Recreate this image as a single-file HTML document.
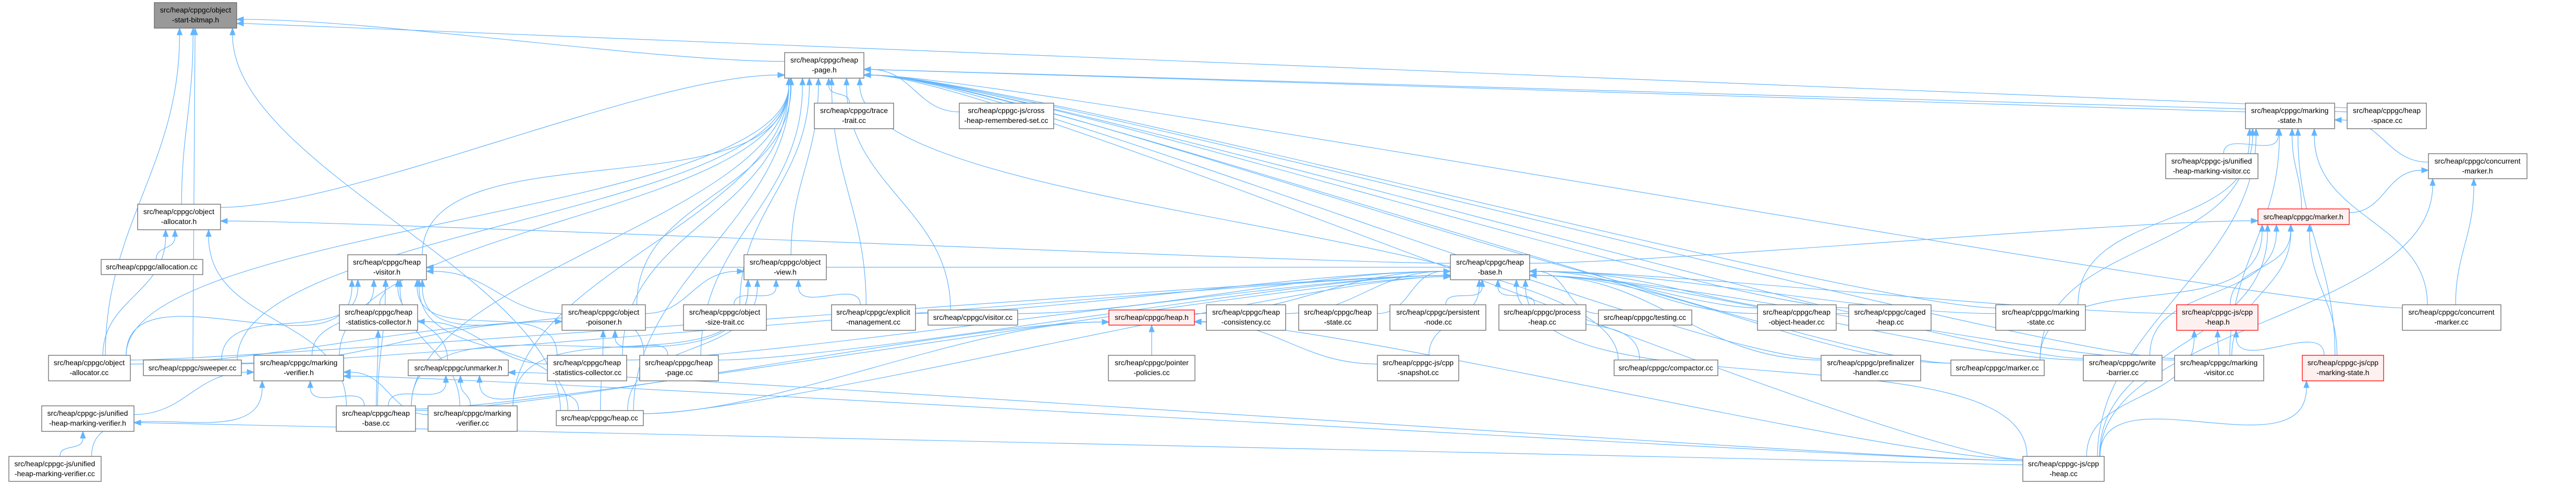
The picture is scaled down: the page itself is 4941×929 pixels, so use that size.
<!DOCTYPE html>
<html><head><meta charset="utf-8">
<style>
html,body{margin:0;padding:0;background:#fff;}
svg{display:block;}
text{font-family:"Liberation Sans",sans-serif;font-size:14px;fill:#000;text-anchor:middle;}
.n{fill:#fff;stroke:#666;stroke-width:1.3;}
.r{fill:#fff0f0;stroke:#f00;stroke-width:1.3;}
.g{fill:#999;stroke:#666;stroke-width:1.3;}
</style></head>
<body>
<svg id="s" width="4941" height="929" viewBox="0 0 4941 929" xmlns="http://www.w3.org/2000/svg">
<g id="edges" fill="none" stroke="#63b5ff" stroke-width="1.2"></g>
<g id="arrows" fill="#63b5ff" stroke="#63b5ff" stroke-width="1"></g>
<g id="nodes">
<rect class="g" x="296" y="5" width="158" height="49"/><text x="375" y="24">src/heap/cppgc/object</text><text x="375" y="43">-start-bitmap.h</text>
<rect class="n" x="264" y="392" width="159" height="49"/><text x="343" y="411">src/heap/cppgc/object</text><text x="343" y="430">-allocator.h</text>
<rect class="n" x="194" y="498" width="195" height="29"/><text x="291" y="517">src/heap/cppgc/allocation.cc</text>
<rect class="n" x="667" y="489" width="151" height="48"/><text x="742" y="508">src/heap/cppgc/heap</text><text x="742" y="527">-visitor.h</text>
<rect class="n" x="651" y="585" width="150" height="49"/><text x="726" y="604">src/heap/cppgc/heap</text><text x="726" y="623">-statistics-collector.h</text>
<rect class="n" x="93" y="682" width="157" height="49"/><text x="171" y="701">src/heap/cppgc/object</text><text x="171" y="720">-allocator.cc</text>
<rect class="n" x="275" y="691" width="188" height="30"/><text x="369" y="711">src/heap/cppgc/sweeper.cc</text>
<rect class="n" x="487" y="682" width="172" height="49"/><text x="573" y="701">src/heap/cppgc/marking</text><text x="573" y="720">-verifier.h</text>
<rect class="n" x="783" y="691" width="192" height="30"/><text x="879" y="711">src/heap/cppgc/unmarker.h</text>
<rect class="n" x="80" y="779" width="177" height="49"/><text x="168" y="798">src/heap/cppgc-js/unified</text><text x="168" y="817">-heap-marking-verifier.h</text>
<rect class="n" x="645" y="779" width="152" height="49"/><text x="721" y="798">src/heap/cppgc/heap</text><text x="721" y="817">-base.cc</text>
<rect class="n" x="17" y="876" width="177" height="48"/><text x="105" y="895">src/heap/cppgc-js/unified</text><text x="105" y="914">-heap-marking-verifier.cc</text>
<rect class="n" x="821" y="779" width="171" height="49"/><text x="906" y="798">src/heap/cppgc/marking</text><text x="906" y="817">-verifier.cc</text>
<rect class="n" x="1505" y="101" width="152" height="49"/><text x="1581" y="120">src/heap/cppgc/heap</text><text x="1581" y="139">-page.h</text>
<rect class="n" x="1562" y="198" width="152" height="49"/><text x="1638" y="217">src/heap/cppgc/trace</text><text x="1638" y="236">-trait.cc</text>
<rect class="n" x="1427" y="489" width="158" height="48"/><text x="1506" y="508">src/heap/cppgc/object</text><text x="1506" y="527">-view.h</text>
<rect class="n" x="1078" y="585" width="160" height="49"/><text x="1158" y="604">src/heap/cppgc/object</text><text x="1158" y="623">-poisoner.h</text>
<rect class="n" x="1311" y="585" width="159" height="49"/><text x="1390" y="604">src/heap/cppgc/object</text><text x="1390" y="623">-size-trait.cc</text>
<rect class="n" x="1595" y="585" width="161" height="49"/><text x="1675" y="604">src/heap/cppgc/explicit</text><text x="1675" y="623">-management.cc</text>
<rect class="n" x="1050" y="682" width="152" height="49"/><text x="1126" y="701">src/heap/cppgc/heap</text><text x="1126" y="720">-statistics-collector.cc</text>
<rect class="n" x="1227" y="682" width="151" height="49"/><text x="1302" y="701">src/heap/cppgc/heap</text><text x="1302" y="720">-page.cc</text>
<rect class="n" x="1067" y="788" width="167" height="29"/><text x="1150" y="807">src/heap/cppgc/heap.cc</text>
<rect class="n" x="1840" y="198" width="181" height="49"/><text x="1930" y="217">src/heap/cppgc-js/cross</text><text x="1930" y="236">-heap-remembered-set.cc</text>
<rect class="n" x="1780" y="595" width="172" height="29"/><text x="1866" y="614">src/heap/cppgc/visitor.cc</text>
<rect class="r" x="2127" y="595" width="164" height="29"/><text x="2209" y="614">src/heap/cppgc/heap.h</text>
<rect class="n" x="2314" y="585" width="152" height="49"/><text x="2390" y="604">src/heap/cppgc/heap</text><text x="2390" y="623">-consistency.cc</text>
<rect class="n" x="2126" y="682" width="166" height="49"/><text x="2209" y="701">src/heap/cppgc/pointer</text><text x="2209" y="720">-policies.cc</text>
<rect class="n" x="2782" y="489" width="152" height="48"/><text x="2858" y="508">src/heap/cppgc/heap</text><text x="2858" y="527">-base.h</text>
<rect class="n" x="2491" y="585" width="151" height="49"/><text x="2566" y="604">src/heap/cppgc/heap</text><text x="2566" y="623">-state.cc</text>
<rect class="n" x="2666" y="585" width="184" height="49"/><text x="2758" y="604">src/heap/cppgc/persistent</text><text x="2758" y="623">-node.cc</text>
<rect class="n" x="2875" y="585" width="167" height="49"/><text x="2958" y="604">src/heap/cppgc/process</text><text x="2958" y="623">-heap.cc</text>
<rect class="n" x="3066" y="595" width="179" height="29"/><text x="3155" y="614">src/heap/cppgc/testing.cc</text>
<rect class="n" x="2642" y="682" width="156" height="49"/><text x="2720" y="701">src/heap/cppgc-js/cpp</text><text x="2720" y="720">-snapshot.cc</text>
<rect class="n" x="3096" y="691" width="199" height="30"/><text x="3195" y="711">src/heap/cppgc/compactor.cc</text>
<rect class="n" x="3371" y="585" width="151" height="49"/><text x="3446" y="604">src/heap/cppgc/heap</text><text x="3446" y="623">-object-header.cc</text>
<rect class="n" x="3546" y="585" width="158" height="49"/><text x="3625" y="604">src/heap/cppgc/caged</text><text x="3625" y="623">-heap.cc</text>
<rect class="n" x="3828" y="585" width="172" height="49"/><text x="3914" y="604">src/heap/cppgc/marking</text><text x="3914" y="623">-state.cc</text>
<rect class="n" x="3493" y="682" width="191" height="49"/><text x="3588" y="701">src/heap/cppgc/prefinalizer</text><text x="3588" y="720">-handler.cc</text>
<rect class="n" x="3742" y="691" width="179" height="30"/><text x="3831" y="711">src/heap/cppgc/marker.cc</text>
<rect class="n" x="3996" y="682" width="151" height="49"/><text x="4071" y="701">src/heap/cppgc/write</text><text x="4071" y="720">-barrier.cc</text>
<rect class="n" x="3880" y="876" width="156" height="48"/><text x="3958" y="895">src/heap/cppgc-js/cpp</text><text x="3958" y="914">-heap.cc</text>
<rect class="n" x="4307" y="198" width="171" height="49"/><text x="4392" y="217">src/heap/cppgc/marking</text><text x="4392" y="236">-state.h</text>
<rect class="n" x="4502" y="198" width="152" height="49"/><text x="4578" y="217">src/heap/cppgc/heap</text><text x="4578" y="236">-space.cc</text>
<rect class="n" x="4154" y="295" width="177" height="48"/><text x="4242" y="314">src/heap/cppgc-js/unified</text><text x="4242" y="333">-heap-marking-visitor.cc</text>
<rect class="n" x="4658" y="295" width="189" height="48"/><text x="4752" y="314">src/heap/cppgc/concurrent</text><text x="4752" y="333">-marker.h</text>
<rect class="r" x="4331" y="401" width="175" height="30"/><text x="4418" y="421">src/heap/cppgc/marker.h</text>
<rect class="r" x="4175" y="585" width="156" height="49"/><text x="4253" y="604">src/heap/cppgc-js/cpp</text><text x="4253" y="623">-heap.h</text>
<rect class="n" x="4608" y="585" width="189" height="49"/><text x="4702" y="604">src/heap/cppgc/concurrent</text><text x="4702" y="623">-marker.cc</text>
<rect class="n" x="4171" y="682" width="171" height="49"/><text x="4256" y="701">src/heap/cppgc/marking</text><text x="4256" y="720">-visitor.cc</text>
<rect class="r" x="4416" y="682" width="156" height="49"/><text x="4494" y="701">src/heap/cppgc-js/cpp</text><text x="4494" y="720">-marking-state.h</text>
</g>
</svg>
<script>
var N={bm:[296,5,158,49],oah:[264,392,159,49],alc:[194,498,195,29],hv:[667,489,151,48],hsch:[651,585,150,49],oac:[93,682,157,49],sw:[275,691,188,30],mvh:[487,682,172,49],um:[783,691,192,30],uhmvh:[80,779,177,49],hbc:[645,779,152,49],uhmvc:[17,876,177,48],mvc:[821,779,171,49],hp:[1505,101,152,49],tt:[1562,198,152,49],ov:[1427,489,158,48],op:[1078,585,160,49],ost:[1311,585,159,49],em:[1595,585,161,49],hscc:[1050,682,152,49],hpc:[1227,682,151,49],hc:[1067,788,167,29],chrs:[1840,198,181,49],vc:[1780,595,172,29],hh:[2127,595,164,29],hcons:[2314,585,152,49],ppc:[2126,682,166,49],hb:[2782,489,152,48],hst:[2491,585,151,49],pn:[2666,585,184,49],ph:[2875,585,167,49],tst:[3066,595,179,29],cs:[2642,682,156,49],cmp:[3096,691,199,30],hoh:[3371,585,151,49],ch:[3546,585,158,49],msc:[3828,585,172,49],pfh:[3493,682,191,49],mkc:[3742,691,179,30],wb:[3996,682,151,49],cphc:[3880,876,156,48],msh:[4307,198,171,49],hsp:[4502,198,152,49],uhmvis:[4154,295,177,48],cmh:[4658,295,189,48],mkh:[4331,401,175,30],cph:[4175,585,156,49],cmc:[4608,585,189,49],mvis:[4171,682,171,49],cpms:[4416,682,156,49]};
var E=[
['hp','bm'],['hsp','bm'],['oah','bm'],['oac','bm'],['sw','bm'],['hc','bm'],
['oah','hp'],['hv','hp'],['mvh','hp'],['sw','hp'],['oac','hp'],['hscc','hp'],['hpc','hp'],['tt','hp'],['chrs','hp'],['ov','hp'],['ost','hp'],['em','hp'],['vc','hp'],['op','hp'],['msh','hp'],['hoh','hp'],['ch','hp'],['mkc','hp'],['cmp','hp'],['wb','hp'],['hsp','hp'],['cmc','hp'],['mvis','hp'],['cphc','hp'],['msc','hp'],['pfh','hp'],['hc','hp'],['mvc','hp'],['hbc','hp'],
['hb','oah'],['alc','oah'],['oac','oah'],['hbc','oah'],
['hb','hv'],['hsch','hv'],['mvh','hv'],['sw','hv'],['oac','hv'],['um','hv'],['hbc','hv'],['mvc','hv'],['op','hv'],['hpc','hv'],['hc','hv'],['hscc','hv'],
['hbc','hsch'],['hscc','hsch'],
['mvc','mvh'],['hbc','mvh'],['uhmvh','mvh'],['cphc','mvh'],['uhmvc','mvh'],
['uhmvc','uhmvh'],['cphc','uhmvh'],
['hbc','um'],['hc','um'],['cphc','um'],['mvc','um'],
['op','ov'],['ost','ov'],['em','ov'],['hbc','ov'],['mvc','ov'],['hc','ov'],
['hpc','op'],['hc','op'],['oac','op'],['sw','op'],
['hh','hb'],['hst','hb'],['pn','hb'],['ph','hb'],['tst','hb'],['hcons','hb'],['em','hb'],['vc','hb'],['hoh','hb'],['ch','hb'],['msc','hb'],['cmp','hb'],['cph','hb'],['cs','hb'],['pfh','hb'],['mkc','hb'],['hbc','hb'],['hpc','hb'],['hc','hb'],['oac','hb'],['sw','hb'],['wb','hb'],['mvis','hb'],['cphc','hb'],['hscc','hb'],
['ppc','hh'],['hc','hh'],['cphc','hh'],['hbc','hh'],['cs','hh'],
['hb','mkh'],['cph','mkh'],['cpms','mkh'],['mkc','mkh'],['cphc','mkh'],['wb','mkh'],['mvis','mkh'],
['mkh','cmh'],['cmc','cmh'],['cphc','cmh'],
['mkh','msh'],['uhmvis','msh'],['cmh','msh'],['cmc','msh'],['msc','msh'],['cpms','msh'],['cphc','msh'],['mvis','msh'],['mkc','msh'],
['cpms','cph'],['cphc','cph'],['mvis','cph'],['cphc','cpms']
];
function C(n){return {x:n[0],y:n[1],w:n[2],h:n[3],cx:n[0]+n[2]/2,cy:n[1]+n[3]/2};}
function cl(v,a,b){return Math.max(a,Math.min(b,v));}
function anc(a,b){ // anchor on a toward b
 var dx=b.cx-a.cx, dy=b.cy-a.cy;
 if(Math.abs(dy)>a.h/2+b.h/2+5 && Math.abs(dx)<3*Math.abs(dy)){
  var x=cl(a.cx+dx*0.15,a.x+8,a.x+a.w-8);
  return dy<0?{x:x,y:a.y,nx:0,ny:-1}:{x:x,y:a.y+a.h,nx:0,ny:1};
 }
 var y=cl(a.cy+dy*0.08,a.y+6,a.y+a.h-6);
 return dx>0?{x:a.x+a.w,y:y,nx:1,ny:0}:{x:a.x,y:y,nx:-1,ny:0};
}
var eg=document.getElementById('edges'),ag=document.getElementById('arrows'),NS='http://www.w3.org/2000/svg';
E.forEach(function(e){
 var s=C(N[e[0]]),t=C(N[e[1]]);
 var p=anc(s,t),q=anc(t,s);
 var d=Math.hypot(q.x-p.x,q.y-p.y);
 var k=Math.min(d*0.4,250);
 var L=13;
 var ex=q.x+q.nx*L, ey=q.y+q.ny*L;
 var c1x=p.x+p.nx*k,c1y=p.y+p.ny*k,c2x=ex+q.nx*k,c2y=ey+q.ny*k;
 var pa=document.createElementNS(NS,'path');
 pa.setAttribute('d','M'+p.x+','+p.y+' C'+c1x+','+c1y+' '+c2x+','+c2y+' '+ex+','+ey);
 eg.appendChild(pa);
 var ux=-q.nx,uy=-q.ny,px=-uy,py=ux;
 var tr=document.createElementNS(NS,'polygon');
 tr.setAttribute('points',q.x+','+q.y+' '+(ex+px*5)+','+(ey+py*5)+' '+(ex-px*5)+','+(ey-py*5));
 ag.appendChild(tr);
});
</script>
</body></html>
